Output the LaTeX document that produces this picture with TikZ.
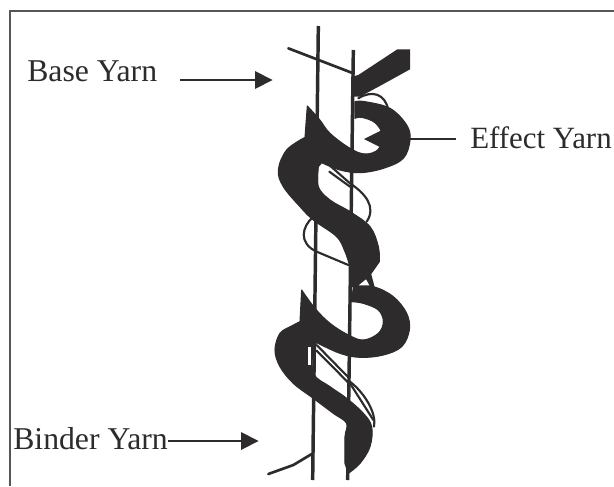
\documentclass[tikz,border=0pt]{standalone}
\usepackage{fontspec}
\setmainfont{Liberation Serif}
\definecolor{ink}{HTML}{2D2B2C}
\tikzset{
  lab/.style={inner sep=0pt,anchor=base west,text=ink,font=\fontsize{23.8pt}{26pt}\selectfont},
  labtight/.style={lab,font=\fontsize{23.2pt}{26pt}\selectfont},
  band/.style={fill=ink,draw=ink,line width=0.8pt,line join=round},
  thin/.style={draw=ink,line width=1.6pt,line cap=round},
  thread/.style={draw=ink,line width=2.6pt},
  lead/.style={draw=ink,line width=0.9pt},
  head/.style={fill=ink,draw=none},
}
\begin{document}
\begin{tikzpicture}[x=0.75pt,y=-0.75pt]
\useasboundingbox (0,0) rectangle (614,486);
\fill[white] (0,0) rectangle (614,486);
\draw[draw=ink!80,line width=1pt] (10,486) -- (10,11) -- (614,11);
\begin{scope}[shift={(250,30)},x=0.25pt,y=-0.25pt]
\draw[thread] (205,-12) -- (188,1350);
\draw[thread] (310,60) -- (293,1350);
\draw[thin,line width=2pt] (115,55) -- (310,130);
\draw[thin] (325,205) .. controls (365,180) and (405,190) .. (415,240);
\draw[thin] (232,400) -- (300,460) .. controls (345,490) and (380,530) .. (350,575);
\draw[thin] (238,425) -- (300,470);
\draw[thin] (190,560) .. controls (155,590) and (145,640) .. (200,665) -- (295,705);
\draw[thin] (200,945) -- (295,1042);
\draw[thin] (200,962) -- (295,1058);
\draw[thin] (300,1055) .. controls (345,1090) and (380,1150) .. (372,1190);
\draw[thin] (300,1060) -- (370,1170);
\draw[thin,line width=2pt] (55,1332) -- (130,1305) -- (185,1272);
\fill[band,draw=none] (442,58) -- (480,58) -- (480,118) -- (395,165) -- (330,200) -- (305,200) -- (305,140) -- (325,135) -- cycle;
\filldraw[band] plot[smooth,tension=0.6] coordinates {(172,228) (208,268) (240,310) (300,355) (345,372) (385,358) (397,315) (375,278) (335,262) (315,265)}
 -- plot[smooth,tension=0.6] coordinates {(315,215) (345,215) (420,235) (470,285) (480,330) (460,385) (400,415) (330,428) (270,420) (215,398)}
 -- plot[smooth,tension=0.6] coordinates {(205,410) (205,470) (240,510) (300,545) (360,590) (385,650) (388,695)}
 -- (362,732) -- (372,770) -- (305,770) -- (297,700)
 -- plot[smooth,tension=0.6] coordinates {(297,700) (285,665) (260,620) (190,570) (150,530) (100,470) (85,420) (110,360) (165,322)} -- cycle;
\filldraw[band] plot[smooth,tension=0.6] coordinates {(155,780) (195,835) (240,880) (295,915) (340,930) (385,910) (400,875) (385,840) (340,820) (305,815)}
 -- plot[smooth,tension=0.6] coordinates {(310,770) (370,770) (430,800) (470,850) (478,900) (455,950) (400,975) (330,982) (270,970) (200,938)}
 -- plot[smooth,tension=0.6] coordinates {(190,950) (190,1030) (240,1070) (290,1105) (340,1150) (365,1190) (360,1250) (330,1300) (295,1330)}
 -- plot[smooth,tension=0.6] coordinates {(285,1300) (285,1220) (290,1180) (250,1150) (190,1105) (130,1060) (90,1010) (75,960) (90,910) (125,888) (150,875)} -- cycle;
\fill[white] (326,766) -- (358,766) -- (348,748) -- cycle;
\fill[white] (174,950) rectangle (183,1005);
\end{scope}
\node[lab] (base) at (27,81) {Base Yarn};
\coordinate (baseS) at (180,80);
\coordinate (baseB) at (255,80);
\draw[lead] (baseS) -- (baseB);
\fill[head] (255,71) -- (272.5,80) -- (255,89) -- cycle;
\node[lab] (binder) at (13,449) {Binder Yarn};
\coordinate (binderB) at (241,441);
\draw[lead] (binder.base east |- binderB) -- (binderB);
\fill[head] (241,432) -- (258.5,441) -- (241,450) -- cycle;
\node[labtight] (effect) at (470,148) {Effect Yarn};
\coordinate (effectB) at (382,139);
\coordinate (effectS) at (456,139);
\draw[lead] (effectS) -- (effectB);
\fill[head] (382,130) -- (364,139) -- (382,148) -- cycle;
\end{tikzpicture}
\end{document}
